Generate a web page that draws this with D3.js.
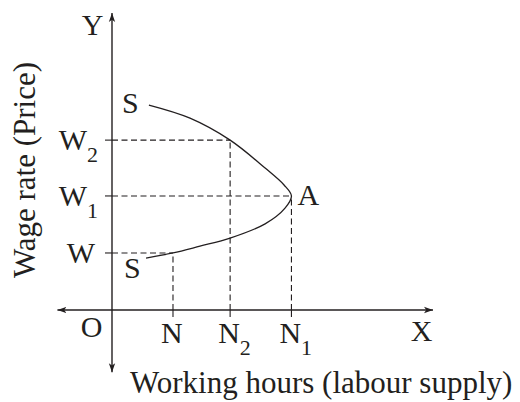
<!DOCTYPE html>
<html><head><meta charset="utf-8">
<script src="https://cdn.jsdelivr.net/npm/d3@7"></script>
<style>html,body{margin:0;padding:0;background:#fff}</style>
</head><body>
<svg id="chart" width="520" height="402"></svg>
<script>
// x positions (labour supply units)
const xLabels = ["N", "N2", "N1"];
const xValues = [19, 36.8, 55.9];
// y positions (wage levels)
const yLabels = ["W", "W1", "W2"];
const yValues = [19.2, 38.4, 57.2];
// supply curve S–A–S (backward bending), ordered from top S to bottom S
const curveX = [11.5, 24.3, 36.8, 47.7, 53.6, 55.9, 53.9, 47.7, 36.8, 27.4, 19.0, 10.6];
const curveY = [69.0, 64.6, 57.2, 47.8, 42.1, 38.4, 34.3, 29.0, 24.2, 21.5, 19.2, 17.5];
const axisExtent = {xMin: -17, xMax: 100, yMin: -21, yMax: 100};

const ink = "#231f20";
const font = "'Liberation Serif','Times New Roman',serif";
const svg = d3.select("#chart");
const x = d3.scaleLinear().domain([0, 100]).range([112, 433]);
const y = d3.scaleLinear().domain([0, 100]).range([310, 13]);

// arrow marker
const defs = svg.append("defs");
defs.append("marker").attr("id", "arr").attr("viewBox", "0 0 10 10")
  .attr("refX", 10).attr("refY", 5).attr("markerWidth", 9).attr("markerHeight", 9)
  .attr("markerUnits", "userSpaceOnUse").attr("orient", "auto-start-reverse")
  .append("path").attr("d", "M0,1.5 L10,5 L0,8.5 L2.5,5 Z").attr("fill", ink);

// axes
svg.append("line").attr("x1", x(axisExtent.xMin)).attr("x2", x(axisExtent.xMax))
  .attr("y1", y(0)).attr("y2", y(0)).attr("stroke", ink).attr("stroke-width", 1.4)
  .attr("marker-start", "url(#arr)").attr("marker-end", "url(#arr)");
svg.append("line").attr("x1", x(0)).attr("x2", x(0))
  .attr("y1", y(axisExtent.yMin)).attr("y2", y(axisExtent.yMax)).attr("stroke", ink).attr("stroke-width", 1.4)
  .attr("marker-start", "url(#arr)").attr("marker-end", "url(#arr)");

// dashed guides: each wage level paired with its quantity
const pairs = [[xValues[0], yValues[0]], [xValues[1], yValues[2]], [xValues[2], yValues[1]]];
pairs.forEach(([xv, yv]) => {
  svg.append("line").attr("x1", x(0)).attr("x2", x(xv)).attr("y1", y(yv)).attr("y2", y(yv))
    .attr("stroke", ink).attr("stroke-width", 1.1).attr("stroke-dasharray", "6,3.5");
  svg.append("line").attr("x1", x(xv)).attr("x2", x(xv)).attr("y1", y(0)).attr("y2", y(yv))
    .attr("stroke", ink).attr("stroke-width", 1.1).attr("stroke-dasharray", "6,3.5");
});
// ticks
yValues.forEach(v => svg.append("line").attr("x1", x(0) - 7).attr("x2", x(0))
  .attr("y1", y(v)).attr("y2", y(v)).attr("stroke", ink).attr("stroke-width", 1.1));
xValues.forEach(v => svg.append("line").attr("x1", x(v)).attr("x2", x(v))
  .attr("y1", y(0)).attr("y2", y(0) + 7).attr("stroke", ink).attr("stroke-width", 1.1));

// curve
const pts = curveX.map((d, i) => [d, curveY[i]]);
svg.append("path").datum(pts)
  .attr("d", d3.line().x(d => x(d[0])).y(d => y(d[1])).curve(d3.curveCatmullRom.alpha(0.5)))
  .attr("fill", "none").attr("stroke", ink).attr("stroke-width", 1.3);

function label(txt, px, py, anchor, size) {
  const t = svg.append("text").attr("x", px).attr("y", py).attr("text-anchor", anchor || "start")
    .attr("font-family", font).attr("font-size", size || 30).attr("fill", ink);
  const m = txt.match(/^([A-Z])(\d?)$/);
  if (m && m[2]) {
    t.append("tspan").text(m[1]);
    t.append("tspan").attr("font-size", 22).attr("dy", 12).text(m[2]);
  } else t.text(txt);
  return t;
}

// y labels
yLabels.forEach((l, i) => {
  label(l, l.length > 1 ? 98 : 95, y(yValues[i]) + 10, "end");
});
// x labels
xLabels.forEach((l, i) => {
  label(l, x(xValues[i]) - 12, y(0) + 33, "start");
});
label("O", 91.5, y(0) + 27, "middle");
label("X", 421.5, y(0) + 31, "middle");
label("Y", 92.5, 35, "middle");
label("S", x(curveX[0]) - 27, y(curveY[0]) + 8, "start");
label("S", x(curveX[curveX.length - 1]) - 22, y(curveY[curveY.length - 1]) + 20, "start");
label("A", x(xValues[2]) + 6, y(yValues[1]) + 9, "start");

// axis titles
svg.append("text").attr("x", 130).attr("y", 393).attr("font-family", font).attr("font-size", 31)
  .attr("fill", ink).text("Working hours (labour supply)");
svg.append("text").attr("transform", "translate(35,170) rotate(-90)").attr("text-anchor", "middle")
  .attr("font-family", font).attr("font-size", 31).attr("fill", ink).text("Wage rate (Price)");
</script>
</body></html>
